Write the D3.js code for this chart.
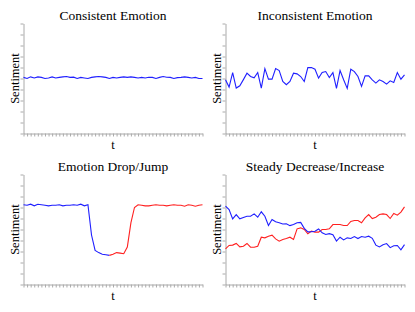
<!DOCTYPE html>
<html>
<head>
<meta charset="utf-8">
<script src="https://cdn.jsdelivr.net/npm/d3@7"></script>
<style>
  body { margin: 0; background: #fff; }
  text { font-family: "Liberation Serif", "DejaVu Serif", serif; fill: #000; }
</style>
</head>
<body>
<div id="chart"></div>
<script>
// t runs 0..50, sentiment in [0, 1]
const tValues = d3.range(0, 51);
const yTicks = d3.range(0, 11).map(d => d / 10);

const consistent = [0.51, 0.50, 0.515, 0.505, 0.515, 0.51, 0.50, 0.505, 0.515, 0.505,
  0.51, 0.515, 0.518, 0.51, 0.512, 0.50, 0.51, 0.505, 0.50, 0.51,
  0.515, 0.518, 0.515, 0.51, 0.50, 0.51, 0.505, 0.51, 0.515, 0.51,
  0.515, 0.51, 0.505, 0.51, 0.505, 0.512, 0.51, 0.50, 0.51, 0.518,
  0.512, 0.51, 0.50, 0.508, 0.51, 0.515, 0.51, 0.505, 0.51, 0.50, 0.50];

const inconsistent = [0.488, 0.422, 0.554, 0.413, 0.434, 0.490, 0.548, 0.518, 0.506, 0.554,
  0.413, 0.590, 0.494, 0.494, 0.590, 0.572, 0.473, 0.443, 0.473, 0.548,
  0.542, 0.518, 0.473, 0.599, 0.599, 0.584, 0.503, 0.554, 0.563, 0.509,
  0.554, 0.410, 0.572, 0.488, 0.410, 0.584, 0.563, 0.518, 0.428, 0.524,
  0.524, 0.488, 0.458, 0.488, 0.473, 0.449, 0.479, 0.464, 0.554, 0.494, 0.533];

// drop: blue t=0..24, jump: red t=24..50
const dropBlue = [0.725, 0.72, 0.73, 0.715, 0.73, 0.725, 0.72, 0.715, 0.72, 0.72,
  0.725, 0.715, 0.72, 0.72, 0.725, 0.72, 0.73, 0.715, 0.725, 0.45,
  0.31, 0.29, 0.275, 0.27, 0.265];
const jumpRed = [0.265, 0.275, 0.29, 0.285, 0.28, 0.34, 0.56, 0.70, 0.725, 0.72,
  0.715, 0.715, 0.72, 0.725, 0.72, 0.72, 0.715, 0.72, 0.725, 0.72,
  0.72, 0.712, 0.725, 0.72, 0.712, 0.72, 0.725];

const decreaseBlue = [0.712, 0.682, 0.597, 0.636, 0.597, 0.610, 0.621, 0.621, 0.642, 0.612,
  0.661, 0.621, 0.536, 0.591, 0.570, 0.561, 0.550, 0.552, 0.535, 0.545,
  0.561, 0.565, 0.510, 0.478, 0.480, 0.484, 0.505, 0.470, 0.455, 0.462,
  0.452, 0.395, 0.430, 0.405, 0.424, 0.418, 0.436, 0.418, 0.436, 0.430,
  0.439, 0.420, 0.358, 0.342, 0.362, 0.372, 0.335, 0.352, 0.355, 0.315, 0.362];
const increaseRed = [0.324, 0.355, 0.358, 0.373, 0.342, 0.348, 0.373, 0.339, 0.339, 0.348,
  0.430, 0.424, 0.439, 0.448, 0.415, 0.394, 0.409, 0.418, 0.430, 0.409,
  0.506, 0.515, 0.500, 0.461, 0.485, 0.476, 0.476, 0.500, 0.500, 0.506,
  0.545, 0.545, 0.545, 0.536, 0.536, 0.573, 0.582, 0.582, 0.561, 0.606,
  0.636, 0.600, 0.612, 0.636, 0.642, 0.636, 0.600, 0.645, 0.630, 0.658, 0.706];

const panels = [
  { title: "Consistent Emotion", left: 23.5, top: 23.5,
    series: [{ start: 0, values: consistent, color: "#1f1fff" }] },
  { title: "Inconsistent Emotion", left: 225.5, top: 23.5,
    series: [{ start: 0, values: inconsistent, color: "#1f1fff" }] },
  { title: "Emotion Drop/Jump", left: 23.5, top: 174.5,
    series: [{ start: 0, values: dropBlue, color: "#1f1fff" },
             { start: 24, values: jumpRed, color: "#ff2020" }] },
  { title: "Steady Decrease/Increase", left: 225.5, top: 174.5,
    series: [{ start: 0, values: increaseRed, color: "#ff2020" },
             { start: 0, values: decreaseBlue, color: "#1f1fff" }] }
];

const width = 179, height = 110;

const svg = d3.select("#chart")
  .append("svg")
  .attr("width", 415)
  .attr("height", 312);

const x = d3.scaleLinear().domain([0, 50]).range([0, width]);
const y = d3.scaleLinear().domain([0, 1]).range([height, 0]);

panels.forEach(p => {
  const g = svg.append("g")
    .attr("transform", `translate(${p.left}, ${p.top})`);

  // axes: ticks only, no labels
  g.append("g")
    .attr("class", "axis")
    .attr("transform", `translate(0, ${height})`)
    .call(d3.axisBottom(x).tickValues(tValues).tickSize(3).tickSizeOuter(0).tickFormat(""));
  g.append("g")
    .attr("class", "axis")
    .call(d3.axisLeft(y).tickValues(yTicks).tickSize(3).tickSizeOuter(0).tickFormat(""));

  g.selectAll(".axis path, .axis line")
    .attr("stroke", "#aaa");

  // title
  g.append("text")
    .attr("x", width / 2)
    .attr("y", -4)
    .style("text-anchor", "middle")
    .style("font-size", "13.5px")
    .text(p.title);

  // y label
  g.append("text")
    .attr("transform", "rotate(-90)")
    .attr("x", -height / 2)
    .attr("y", -5)
    .style("text-anchor", "middle")
    .style("font-size", "12.5px")
    .text("Sentiment");

  // x label
  g.append("text")
    .attr("x", width / 2)
    .attr("y", height + 15)
    .style("text-anchor", "middle")
    .style("font-size", "12.5px")
    .text("t");

  const line = d3.line()
    .x(d => x(d.t))
    .y(d => y(d.v));

  p.series.forEach(s => {
    const pts = s.values.map((v, i) => ({ t: s.start + i, v: v }));
    g.append("path")
      .datum(pts)
      .attr("fill", "none")
      .attr("stroke", s.color)
      .attr("stroke-width", 1.1)
      .attr("d", line);
  });
});
</script>
</body>
</html>
